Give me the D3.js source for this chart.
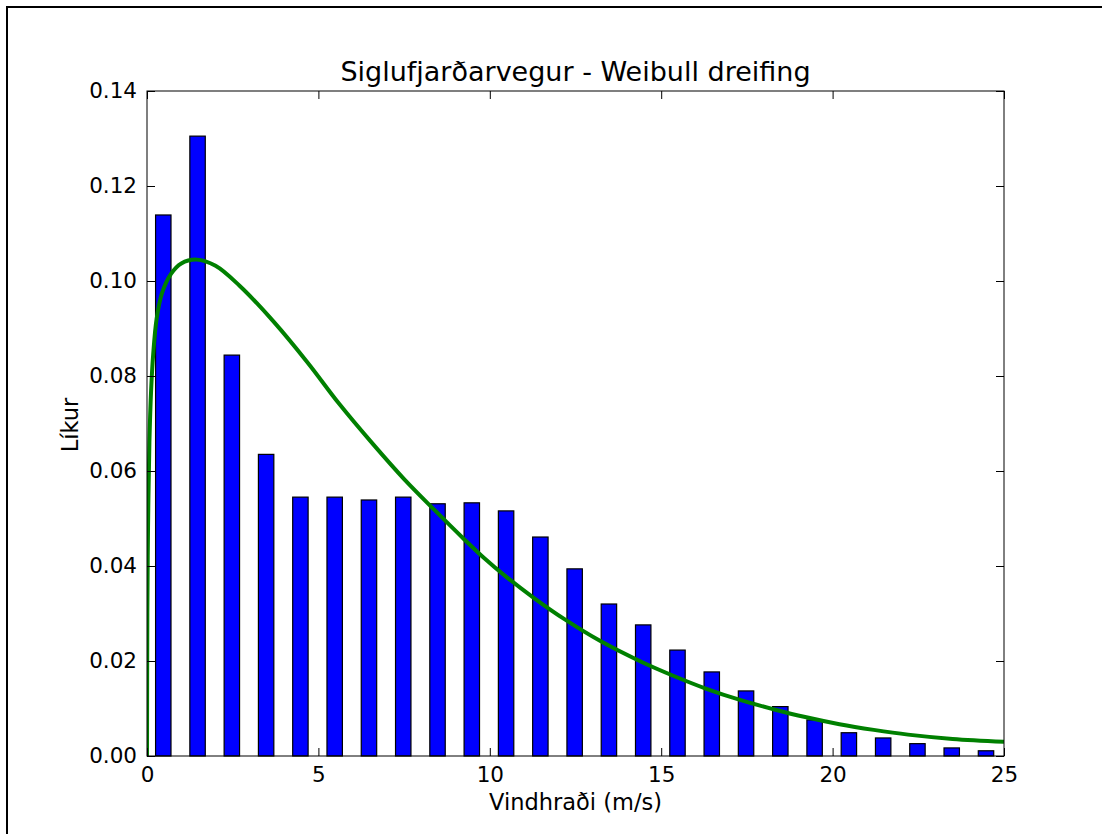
<!DOCTYPE html>
<meta charset="utf-8">
<style>
body { margin: 0; background: #fff; }
svg { display: block; }
text { font-family: "DejaVu Sans", sans-serif; fill: #000; }
.tick text { font-size: 21.5px; }
.tick line { stroke: #000; }
.domain { display: none; }
.bar { fill: #0000ff; stroke: #000; stroke-width: 1.2px; }
.fit { fill: none; stroke: #008000; stroke-width: 4px; }
</style>
<svg width="1102" height="834"></svg>
<script src="https://cdn.jsdelivr.net/npm/d3@7"></script>
<script>

// wind speed histogram (bin start, probability)
var bins = [0, 1, 2, 3, 4, 5, 6, 7, 8, 9, 10, 11, 12, 13, 14, 15, 16, 17, 18, 19, 20, 21, 22, 23, 24];
var probs = [0.1139, 0.1305, 0.0844, 0.0635, 0.0545, 0.0545, 0.0539, 0.0545, 0.0531, 0.0533, 0.0516, 0.0461,
             0.0394, 0.0320, 0.0276, 0.0223, 0.0177, 0.0137, 0.0104, 0.0076, 0.0049, 0.0038, 0.0026, 0.0017, 0.0011];

// weibull fit, points
var fitX = [0, 0.01, 0.03, 0.07, 0.12, 0.18, 0.28, 0.44, 0.7, 1.0, 1.45, 2.0, 2.7, 3.7, 4.7, 5.6, 6.6, 7.5, 8.4,
            9.2, 9.8, 10.5, 11.3, 12.2, 13.2, 14.4, 15.35, 16.3, 17.3, 18.3, 19.2, 20.2, 21.2, 22.2, 23.5, 25];
var fitY = [0, 0.030, 0.048, 0.066, 0.077, 0.0845, 0.092, 0.0975, 0.1015, 0.1037, 0.1045, 0.1032, 0.0990,
            0.0914, 0.0827, 0.0742, 0.0656, 0.0583, 0.0517, 0.0460, 0.0419, 0.0376, 0.0332, 0.0287, 0.0243,
            0.0199, 0.0169, 0.0142, 0.0118, 0.0098, 0.0082, 0.0067, 0.0055, 0.0045, 0.0036, 0.0030];

var xTicks = [0, 5, 10, 15, 20, 25];
var yTicks = [0, 0.02, 0.04, 0.06, 0.08, 0.10, 0.12, 0.14];

var title = "Siglufjarðarvegur - Weibull dreifing",
    xLabel = "Vindhraði (m/s)",
    yLabel = "Líkur";

var svg = d3.select("svg"),
    margin = {top: 91, right: 98, bottom: 78, left: 147},
    width = svg.attr("width") - margin.left - margin.right,
    height = svg.attr("height") - margin.top - margin.bottom;

// outer frame (only top and left visible)
svg.append("path")
    .attr("d", "M7,834V7H1102")
    .attr("fill", "none")
    .attr("stroke", "#000")
    .attr("stroke-width", 2);

var g = svg.append("g").attr("transform", "translate(" + margin.left + "," + margin.top + ")");

var x = d3.scaleLinear().domain([0, 25]).range([0, width]),
    y = d3.scaleLinear().domain([0, 0.14]).range([height, 0]);

g.append("clipPath").attr("id", "clip")
  .append("rect").attr("width", width).attr("height", height);

var barW = 0.45, barOff = 0.25;

g.selectAll(".bar")
  .data(bins)
  .enter().append("rect")
    .attr("class", "bar")
    .attr("x", function(d) { return x(d + barOff); })
    .attr("width", function(d) { return x(d + barOff + barW) - x(d + barOff); })
    .attr("y", function(d, i) { return y(probs[i]); })
    .attr("height", function(d, i) { return height - y(probs[i]); });

var line = d3.line()
    .curve(d3.curveCatmullRom.alpha(0.5))
    .x(function(d) { return x(d); })
    .y(function(d, i) { return y(fitY[i]); });

g.append("path")
    .attr("class", "fit")
    .attr("clip-path", "url(#clip)")
    .attr("d", line(fitX));

// axes, matplotlib style: ticks inward on all four sides
var tickLen = 8;

g.append("g")
    .attr("transform", "translate(0," + height + ")")
    .call(d3.axisBottom(x).tickValues(xTicks).tickSizeInner(-tickLen).tickSizeOuter(0).tickPadding(11)
      .tickFormat(d3.format("d")));

g.append("g")
    .call(d3.axisTop(x).tickValues(xTicks).tickSizeInner(-tickLen).tickSizeOuter(0).tickFormat(""));

g.append("g")
    .call(d3.axisLeft(y).tickValues(yTicks).tickSizeInner(-tickLen).tickSizeOuter(0).tickPadding(10)
      .tickFormat(d3.format(".2f")));

g.append("g")
    .attr("transform", "translate(" + width + ",0)")
    .call(d3.axisRight(y).tickValues(yTicks).tickSizeInner(-tickLen).tickSizeOuter(0).tickFormat(""));

g.append("rect")
    .attr("width", width)
    .attr("height", height)
    .attr("fill", "none")
    .attr("stroke", "#000")
    .attr("stroke-width", 1);

g.append("text")
    .attr("x", width / 2)
    .attr("y", -10)
    .attr("text-anchor", "middle")
    .style("font-size", "27px")
    .text(title);

g.append("text")
    .attr("x", width / 2)
    .attr("y", height + 54)
    .attr("text-anchor", "middle")
    .style("font-size", "22.5px")
    .text(xLabel);

g.append("text")
    .attr("transform", "translate(-69," + (height / 2 + 1.5) + ")rotate(-90)")
    .attr("text-anchor", "middle")
    .style("font-size", "22.5px")
    .text(yLabel);

</script>
